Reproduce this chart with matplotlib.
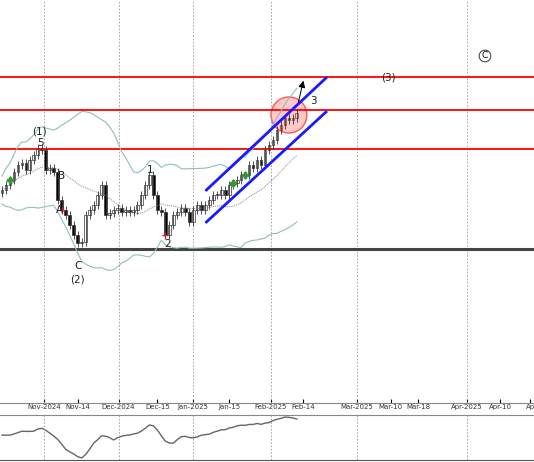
import numpy as np
import matplotlib
matplotlib.use("Agg")
import matplotlib.pyplot as plt

# close values (price units), one per bar
close_y = [190,185,180,172,165,163,170,160,155,148,150,170,168,172,200,210,215,225,235,243,242,
           215,210,205,195,185,215,213,210,208,212,210,212,210,205,195,185,175,195,210,212,235,225,
           215,212,208,212,222,210,205,210,205,200,195,195,190,195,185,183,180,175,175,165,168,160,
           165,150,145,140,130,125,118,120,118,113]
close = np.array([400 - v for v in close_y], dtype=float)
levels_red = [323, 290, 251]
level_gray = 151
chan_x = [51.3, 81.3]
chan_upper = [210, 322]
chan_lower = [178, 288]
grid_pos = [10.5, 29.25, 48, 67.5, 89, 116.75]
tick_pos = [10.5, 19, 29.25, 39, 48, 57, 67.5, 75.5, 89, 97.5, 104.5, 116.75, 125, 132.5]
tick_lab = ["Nov-2024","Nov-14","Dec-2024","Dec-15","Jan-2025","Jan-15","Feb-2025","Feb-14",
            "Mar-2025","Mar-10","Mar-18","Apr-2025","Apr-10","Ap"]

n = len(close)
opens = np.concatenate([[close[0] - 3], close[:-1]])
highs = np.maximum(opens, close) + 4
lows = np.minimum(opens, close) - 4
x = np.arange(n)

fig = plt.figure(figsize=(5.34, 4.62), dpi=100)
ax = fig.add_axes([0, 59/462, 1, 403/462])
ax.set_xlim(-0.5, 133.5)
ax.set_ylim(-3, 400)

for g in grid_pos:
    ax.axvline(g, color="#999999", lw=0.6, ls=(0, (2, 2)))
for lv in levels_red:
    ax.axhline(lv, color="red", lw=1.3)
ax.axhline(level_gray, color="#444444", lw=2.2)

s = np.array([close[max(0, i-19):i+1].mean() for i in range(n)])
sd = np.array([close[max(0, i-19):i+1].std() for i in range(n)])
ax.plot(x, s, color="#888888", lw=0.7, ls=(0, (1, 1)))
ax.plot(x, s + 2*sd + 14, color="#8fbfbf", lw=0.8)
ax.plot(x, s - 2*sd - 14, color="#8fbfbf", lw=0.8)

for i in range(n):
    up = close[i] >= opens[i]
    ax.vlines(i, lows[i], highs[i], color="#333333", lw=0.6)
    b = min(opens[i], close[i]); h = max(abs(close[i]-opens[i]), 1)
    ax.bar(i, h, bottom=b, width=0.7, color="white" if up else "black", edgecolor="#333333", lw=0.5)

ax.plot(chan_x, chan_upper, color="#1a1aff", lw=2)
ax.plot(chan_x, chan_lower, color="#1a1aff", lw=2)
ax.add_patch(matplotlib.patches.Ellipse((72, 285), 9, 36, facecolor=(1, 0.4, 0.4, 0.35), edgecolor="#ff5555", lw=1))
ax.annotate("", xy=(75.8, 322), xytext=(74.2, 295), arrowprops=dict(arrowstyle="-|>", color="black", lw=0.7))
ax.plot([2, 58, 61], [close[2], close[58], close[61]], "P", color="#339933", ms=4)
ax.plot([15, 41], [close[15], close[41]], "+", color="#cc2222", ms=4)

txt = [("(1)", 9.5, 269), ("5", 9.7, 257), ("B", 15, 224), ("A", 14.5, 190), ("C", 19, 134),
       ("(2)", 19, 121), ("1", 37.2, 230), ("2", 41.5, 156), ("3", 78.2, 299), ("(3)", 97, 323)]
for t, xx, yy in txt:
    ax.text(xx, yy, t, ha="center", va="center", fontsize=7.5, color="#222222")
ax.text(121.2, 344, "C", ha="center", va="center", fontsize=6.5,
        bbox=dict(boxstyle="circle,pad=0.15", fc="white", ec="#333333", lw=0.7))

ax.set_xticks(tick_pos)
ax.set_xticklabels(tick_lab, fontsize=5, color="#333333")
ax.tick_params(axis="x", direction="in", length=3, pad=1)
ax.set_yticks([])
for sp in ["top", "right", "left"]:
    ax.spines[sp].set_visible(False)
ax.spines["bottom"].set_color("#888888")

ax2 = fig.add_axes([0, 2/462, 1, 45/462])
ax2.set_xlim(-0.5, 133.5)
ind = np.array([close[max(0, i-2):i+1].mean() for i in range(n)]) - s
ax2.plot(x, ind, color="#666666", lw=1)
for g in grid_pos:
    ax2.axvline(g, color="#999999", lw=0.6, ls=(0, (2, 2)))
ax2.set_xticks([]); ax2.set_yticks([])
for sp in ["right", "left"]:
    ax2.spines[sp].set_visible(False)
ax2.spines["top"].set_color("#888888")
ax2.spines["bottom"].set_color("#555555")
fig.savefig("out.png", dpi=100)
